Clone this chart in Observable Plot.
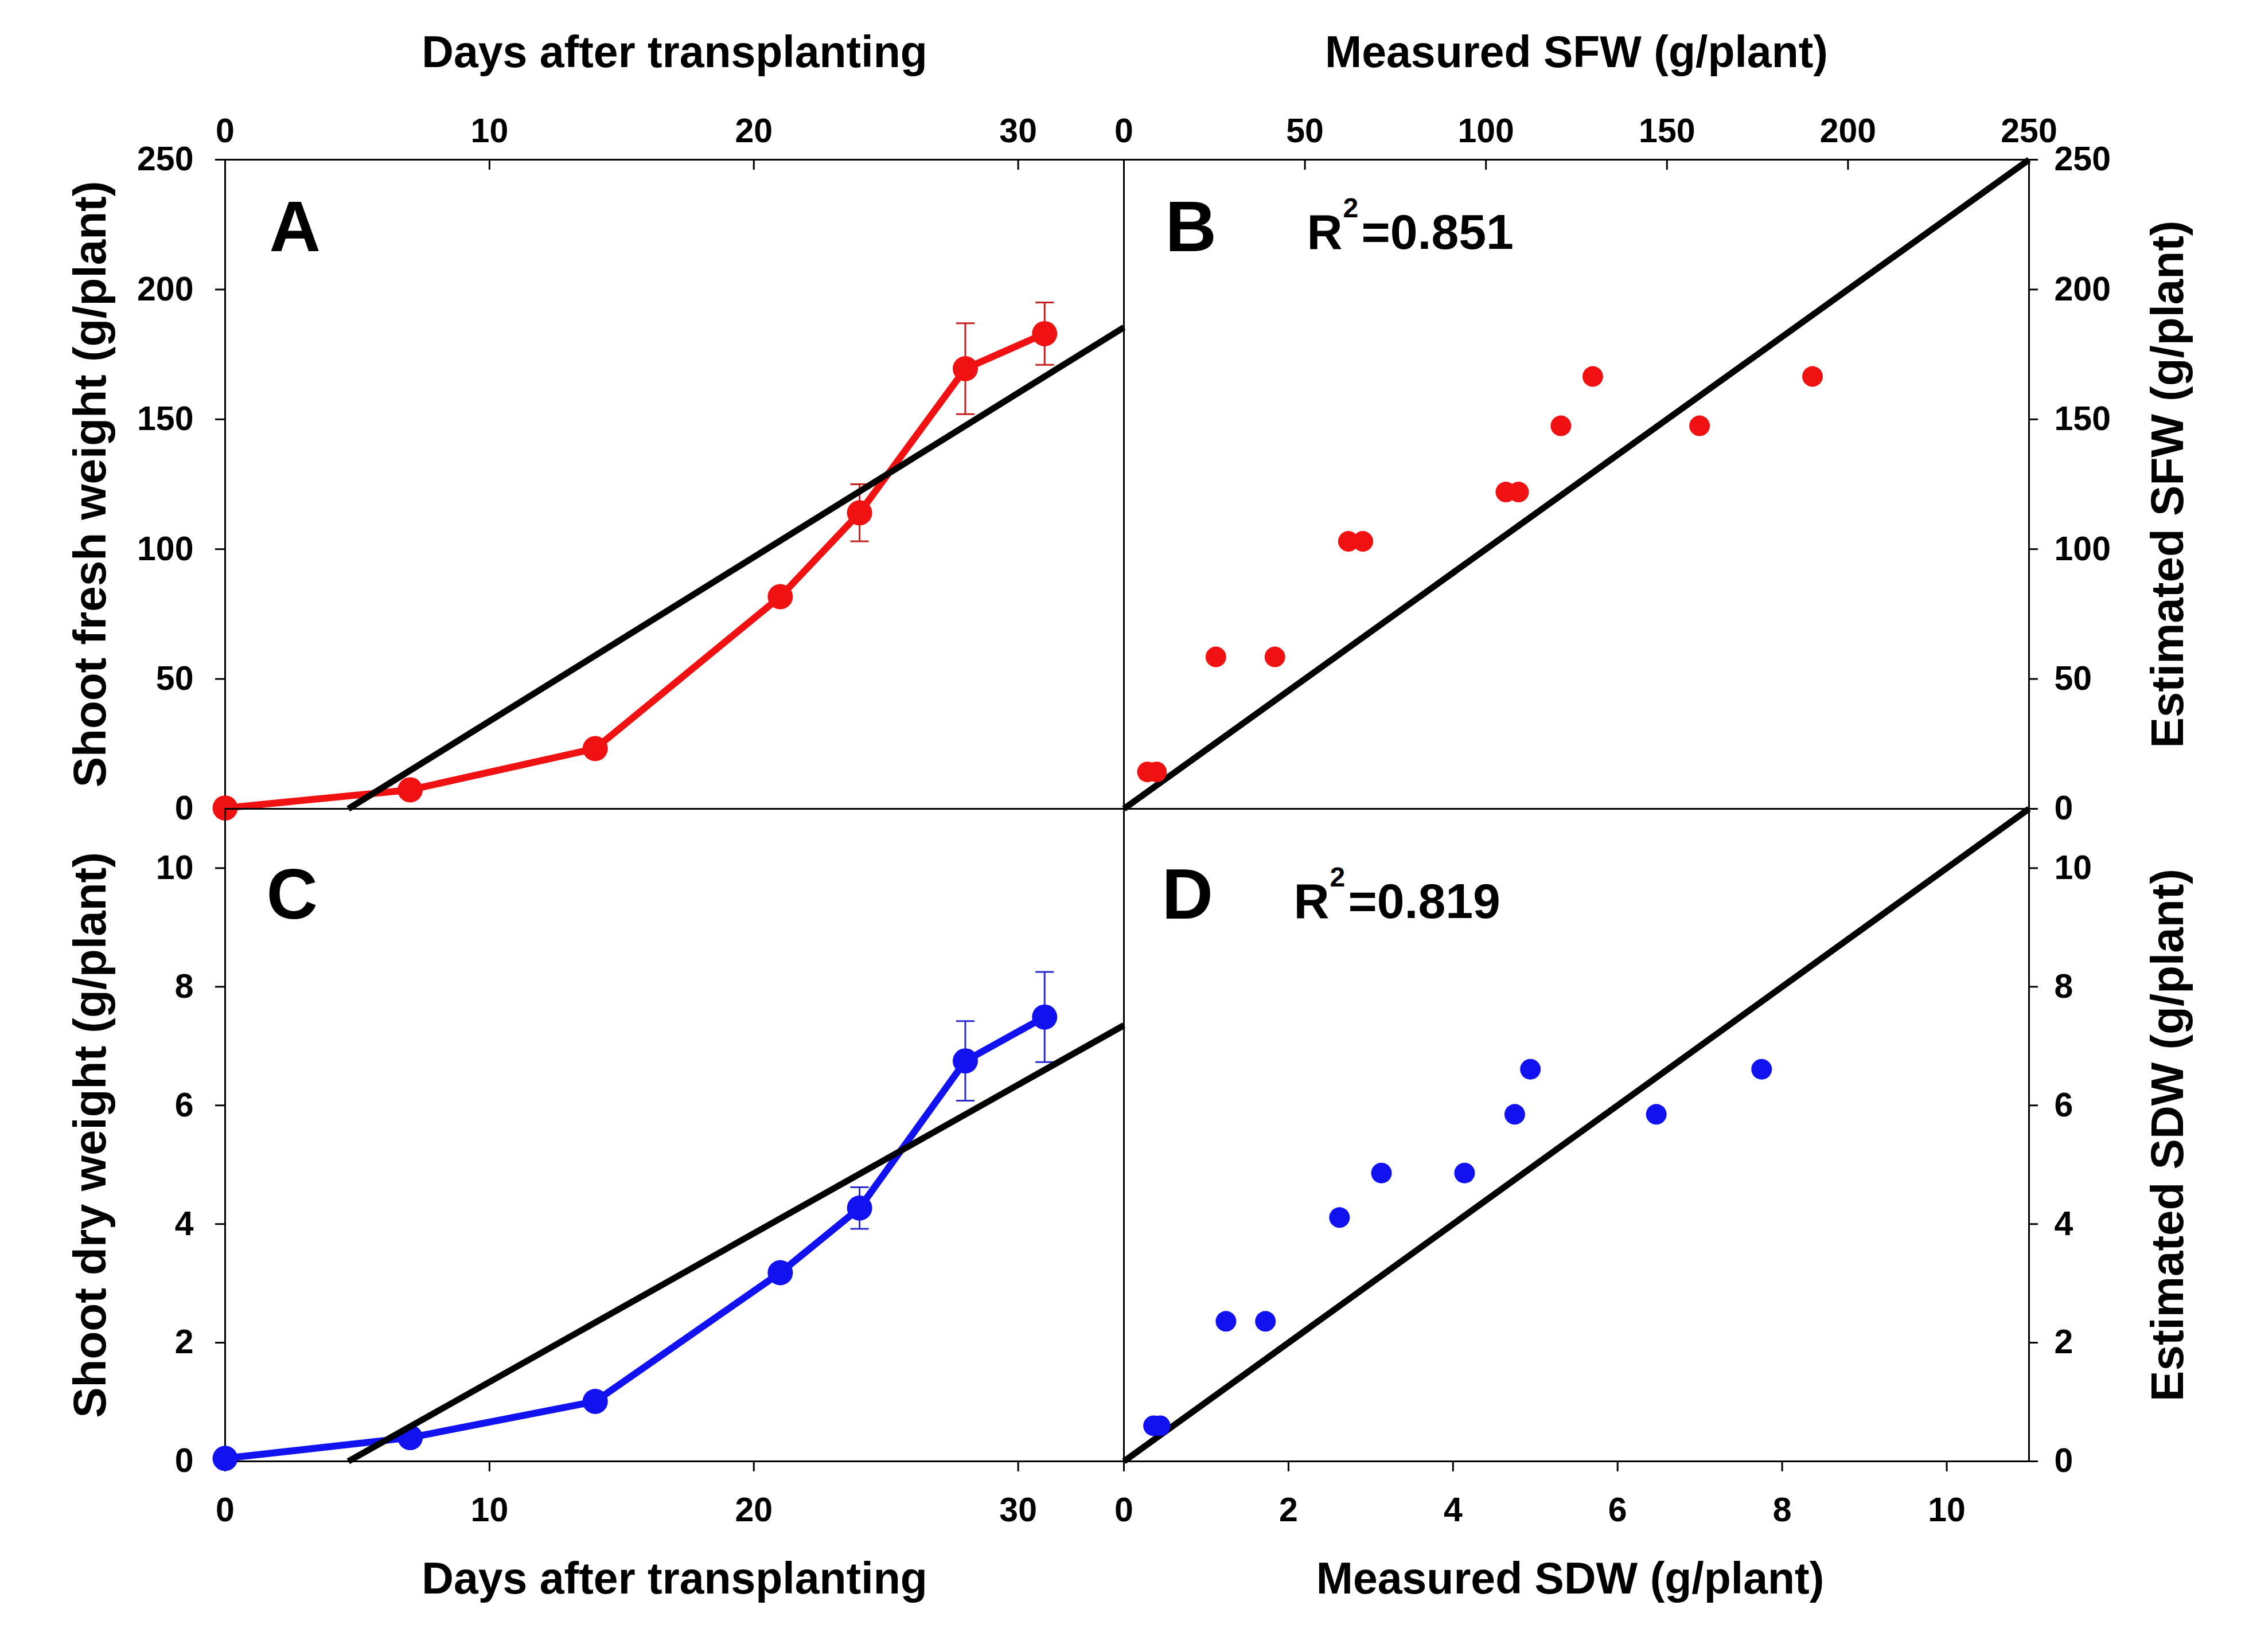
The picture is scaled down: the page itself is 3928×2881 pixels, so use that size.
<!DOCTYPE html>
<html>
<head>
<meta charset="utf-8">
<script src="https://cdn.jsdelivr.net/npm/d3@7"></script>
<script src="https://cdn.jsdelivr.net/npm/@observablehq/plot@0.6"></script>
<style>
  html, body { margin: 0; background: #fff; }
  #figure { position: relative; width: 3928px; height: 2881px; background: #fff; }
  #figure svg { position: absolute; left: 0; top: 0; }
</style>
</head>
<body>
<div id="figure"></div>
<script>
// ---- Growth data: mean shoot weight per sampling day, with error bars ----
const days = [0, 7, 14, 21, 24, 28, 31];
const sfwMean = [0.3, 7.3, 23.2, 81.7, 114, 169.5, 183];
const sfwErr = [0.2, 1.5, 2, 3, 11, 17.5, 12];
const sdwMean = [0.05, 0.4, 1.01, 3.18, 4.27, 6.75, 7.49];
const sdwErr = [0.02, 0.06, 0.1, 0.12, 0.35, 0.67, 0.76];

// Linear fits drawn over the growth curves
const sfwFit = { slope: 6.32, intercept: -29.45 };
const sdwFit = { slope: 0.2505, intercept: -1.167 };

// Measured vs. estimated shoot weights
const sfwMeasured = [6.5, 9, 25.4, 41.7, 62, 66, 105.5, 109, 120.7, 159, 129.5, 190.2];
const sfwEstimated = [14.2, 14.2, 58.5, 58.5, 103, 103, 122, 122, 147.5, 147.5, 166.5, 166.5];
const sdwMeasured = [0.36, 0.44, 1.24, 1.72, 2.62, 3.13, 4.14, 4.75, 6.47, 4.94, 7.75];
const sdwEstimated = [0.6, 0.6, 2.36, 2.36, 4.11, 4.86, 4.86, 5.85, 5.85, 6.61, 6.61];
const r2Sfw = "0.851";
const r2Sdw = "0.819";

// Axis domains and tick values
const dayDomain = [0, 34];
const sfwDomain = [0, 250];
const sdwDomain = [0, 11];
const dayTicks = [0, 10, 20, 30];
const sfwTicks = [0, 50, 100, 150, 200, 250];
const sdwTicks = [0, 2, 4, 6, 8, 10];

// ---- Tables built from the arrays ----
const sfwSeries = days.map((day, i) => ({ day, mean: sfwMean[i], err: sfwErr[i] }));
const sdwSeries = days.map((day, i) => ({ day, mean: sdwMean[i], err: sdwErr[i] }));
const sfwPairs = sfwMeasured.map((m, i) => ({ measured: m, estimated: sfwEstimated[i] }));
const sdwPairs = sdwMeasured.map((m, i) => ({ measured: m, estimated: sdwEstimated[i] }));
const fitLine = (fit, xMax) => [
  { x: -fit.intercept / fit.slope, y: 0 },
  { x: xMax, y: fit.slope * xMax + fit.intercept }
];
const identityLine = (max) => [{ x: 0, y: 0 }, { x: max, y: max }];

// ---- Layout ----
const W = 3928, H = 2881;
const colLeft = 392, colMid = 1959, colRight = 3537;
const rowTop = 278, rowMid = 1410, rowBottom = 2548;
const FONT = "'Liberation Sans', Arial, Helvetica, sans-serif";

const red = "#f01212", redDark = "#c81e1e";
const blue = "#1212f0", blueDark = "#2a2acc";

const tickText = { fontSize: 59, fontWeight: "bold", label: null };
const titleText = { fontWeight: "bold", text: d => d };
const sideTitle = { rotate: -90, textAnchor: "middle", lineAnchor: "bottom", fontSize: 80, ...titleText };

// horizontal cap for error bars
const capSymbol = {
  draw(context, size) {
    const h = Math.sqrt(size / Math.PI);
    context.moveTo(-h, 0);
    context.lineTo(h, 0);
  }
};

function panel(box, xDomain, yDomain, marks) {
  return Plot.plot({
    width: W,
    height: H,
    marginLeft: box.left,
    marginRight: W - box.right,
    marginTop: box.top,
    marginBottom: H - box.bottom,
    x: { domain: xDomain },
    y: { domain: yDomain },
    style: { fontFamily: FONT, background: "transparent", color: "black" },
    marks: [Plot.frame({ stroke: "black", strokeWidth: 3 }), ...marks]
  });
}

function growthMarks(series, fit, color, dark) {
  return [
    Plot.ruleX(series, { x: "day", y1: d => d.mean - d.err, y2: d => d.mean + d.err, stroke: dark, strokeWidth: 3 }),
    Plot.dot(series, { x: "day", y: d => d.mean - d.err, symbol: capSymbol, r: 16, fill: "none", stroke: dark, strokeWidth: 3 }),
    Plot.dot(series, { x: "day", y: d => d.mean + d.err, symbol: capSymbol, r: 16, fill: "none", stroke: dark, strokeWidth: 3 }),
    Plot.line(series, { x: "day", y: "mean", stroke: color, strokeWidth: 12 }),
    Plot.dot(series, { x: "day", y: "mean", r: 22, fill: color }),
    Plot.line(fitLine(fit, dayDomain[1]), { x: "x", y: "y", stroke: "black", strokeWidth: 11, strokeLinecap: "butt" })
  ];
}

function r2Marks(value, dx, dy) {
  const base = { frameAnchor: "top-left", textAnchor: "start", lineAnchor: "bottom", fontWeight: "bold", text: d => d };
  return [
    Plot.text(["R"], { ...base, dx, dy, fontSize: 86 }),
    Plot.text(["2"], { ...base, dx: dx + 63, dy: dy - 55, fontSize: 48 }),
    Plot.text(["=" + value], { ...base, dx: dx + 95, dy, fontSize: 86 })
  ];
}

function panelLetter(letter, dx, dy) {
  return Plot.text([letter], {
    frameAnchor: "top-left", dx, dy, textAnchor: "start", lineAnchor: "bottom",
    fontSize: 124, fontWeight: "bold", text: d => d
  });
}

const topRowHeight = rowMid - rowTop;

// A: shoot fresh weight over time
const plotA = panel({ left: colLeft, right: colMid, top: rowTop, bottom: rowMid }, dayDomain, sfwDomain, [
  Plot.axisX({ anchor: "top", ticks: dayTicks, tickSize: 0, tickPadding: 31, ...tickText }),
  Plot.tickX(dayTicks, { x: d => d, insetBottom: topRowHeight - 18, stroke: "black", strokeWidth: 3 }),
  Plot.axisY({ anchor: "left", ticks: sfwTicks, tickSize: 17, tickPadding: 38, strokeWidth: 3, ...tickText }),
  ...growthMarks(sfwSeries, sfwFit, red, redDark),
  Plot.text(["Days after transplanting"], { frameAnchor: "top", dy: -162, lineAnchor: "bottom", fontSize: 77, ...titleText }),
  Plot.text(["Shoot fresh weight (g/plant)"], { frameAnchor: "left", dx: -209, ...sideTitle }),
  panelLetter("A", 77, 159)
]);

// B: estimated vs measured fresh weight
const plotB = panel({ left: colMid, right: colRight, top: rowTop, bottom: rowMid }, sfwDomain, sfwDomain, [
  Plot.axisX({ anchor: "top", ticks: sfwTicks, tickSize: 0, tickPadding: 31, ...tickText }),
  Plot.tickX(sfwTicks, { x: d => d, insetBottom: topRowHeight - 18, stroke: "black", strokeWidth: 3 }),
  Plot.axisY({ anchor: "right", ticks: sfwTicks, tickSize: 15, tickPadding: 29, strokeWidth: 3, ...tickText }),
  Plot.line(identityLine(sfwDomain[1]), { x: "x", y: "y", stroke: "black", strokeWidth: 11, strokeLinecap: "butt" }),
  Plot.dot(sfwPairs, { x: "measured", y: "estimated", r: 18, fill: red }),
  Plot.text(["Measured SFW (g/plant)"], { frameAnchor: "top", dy: -162, lineAnchor: "bottom", fontSize: 77, ...titleText }),
  Plot.text(["Estimated SFW (g/plant)"], { frameAnchor: "right", dx: 268, ...sideTitle }),
  panelLetter("B", 72, 159),
  ...r2Marks(r2Sfw, 319, 155)
]);

// C: shoot dry weight over time
const plotC = panel({ left: colLeft, right: colMid, top: rowMid, bottom: rowBottom }, dayDomain, sdwDomain, [
  Plot.axisX({ anchor: "bottom", ticks: dayTicks, tickSize: 18, tickPadding: 45, strokeWidth: 3, ...tickText }),
  Plot.axisY({ anchor: "left", ticks: sdwTicks, tickSize: 17, tickPadding: 38, strokeWidth: 3, ...tickText }),
  ...growthMarks(sdwSeries, sdwFit, blue, blueDark),
  Plot.text(["Days after transplanting"], { frameAnchor: "bottom", dy: 230, lineAnchor: "bottom", fontSize: 77, ...titleText }),
  Plot.text(["Shoot dry weight (g/plant)"], { frameAnchor: "left", dx: -209, ...sideTitle }),
  panelLetter("C", 72, 191)
]);

// D: estimated vs measured dry weight
const plotD = panel({ left: colMid, right: colRight, top: rowMid, bottom: rowBottom }, sdwDomain, sdwDomain, [
  Plot.axisX({ anchor: "bottom", ticks: sdwTicks, tickSize: 18, tickPadding: 45, strokeWidth: 3, ...tickText }),
  Plot.axisY({ anchor: "right", ticks: sdwTicks, tickSize: 15, tickPadding: 29, strokeWidth: 3, ...tickText }),
  Plot.line(identityLine(sdwDomain[1]), { x: "x", y: "y", stroke: "black", strokeWidth: 11, strokeLinecap: "butt" }),
  Plot.dot(sdwPairs, { x: "measured", y: "estimated", r: 18, fill: blue }),
  Plot.text(["Measured SDW (g/plant)"], { frameAnchor: "bottom", dx: -11, dy: 230, lineAnchor: "bottom", fontSize: 77, ...titleText }),
  Plot.text(["Estimated SDW (g/plant)"], { frameAnchor: "right", dx: 268, ...sideTitle }),
  panelLetter("D", 66, 191),
  ...r2Marks(r2Sdw, 296, 190)
]);

const figure = document.getElementById("figure");
for (const p of [plotA, plotB, plotC, plotD]) figure.appendChild(p);
</script>
</body>
</html>
